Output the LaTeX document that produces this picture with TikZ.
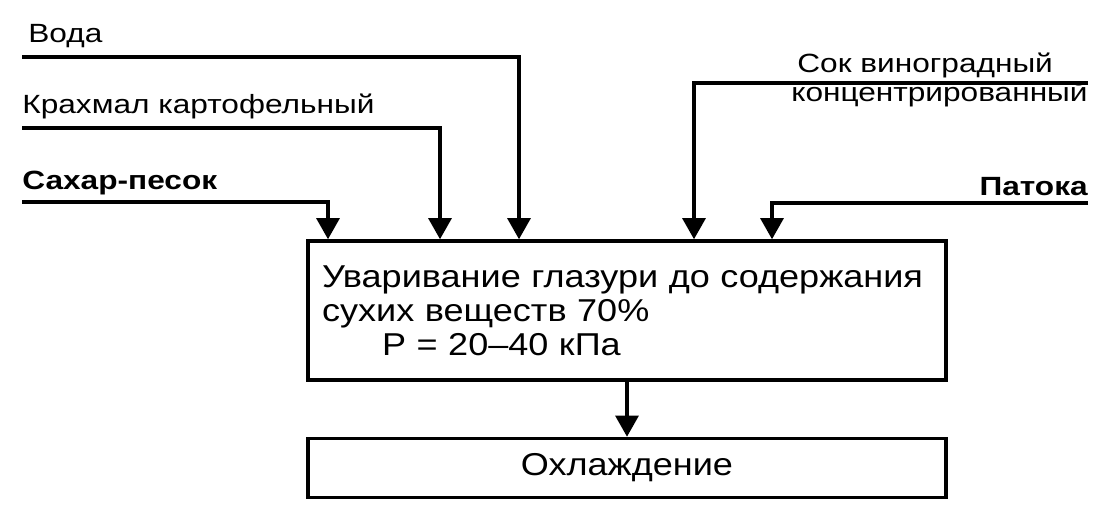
\documentclass[tikz,border=0pt]{standalone}
\usepackage{fontspec}
\setmainfont{Liberation Sans}
\newfontfamily\lblfont[Ligatures=TeX,FakeStretch=1.2]{Liberation Sans}
\newfontfamily\boxfont[Ligatures=TeX,FakeStretch=1.14]{Liberation Sans}
\usetikzlibrary{arrows.meta,positioning,calc}

\begin{document}
\begin{tikzpicture}[
  x=0.02cm,y=-0.02cm,
  lbl/.style={anchor=base west,inner sep=0pt,font=\lblfont\fontsize{15}{16.5}\selectfont},
  lblb/.style={lbl,font=\lblfont\fontsize{15}{16.5}\selectfont\bfseries},
  procbox/.style={draw,line width=2pt,inner sep=0pt,
                  font=\boxfont\fontsize{18}{19.3}\selectfont},
  flow/.style={-{Triangle[length=12pt,width=13pt]},line width=2pt}
]
\useasboundingbox (0,0) rectangle (1109,527);

% process boxes
\node[procbox,minimum width=12.76cm,minimum height=2.78cm,
      text width=12.2cm,align=left] (cook) at (627,310.5)
  {Уваривание глазури до содержания\\сухих веществ 70\%\\\hspace*{1.2cm}Р = 20--40 кПа};
\node[procbox,minimum width=12.76cm,minimum height=1.18cm] (cool) at (627,468)
  {Охлаждение};

% inputs
\node[lbl] (voda) at (28,43) {Вода};
\node[lbl] (kraxmal) at (22,113) {Крахмал картофельный};
\node[lblb] (saxar) at (22,190) {Сахар-песок};
\node[lbl,anchor=base west] (sok) at (797,73) {Сок виноградный};
\node[lbl,anchor=base east] (sok2) at (1088,102) {концентрированный};
\node[lblb,anchor=base east] (patoka) at (1088,195) {Патока};

\coordinate (vodaS) at (22,57);
\coordinate (kraxmalS) at (22,128);
\coordinate (saxarS) at (22,202);
\coordinate (sokS) at (1088,83);
\coordinate (patokaS) at (1088,203);

\draw[flow] (vodaS) -| (cook.north -| 519,0);
\draw[flow] (kraxmalS) -| (cook.north -| 440,0);
\draw[flow] (saxarS) -| (cook.north -| 328,0);
\draw[flow] (sokS) -| (cook.north -| 694,0);
\draw[flow] (patokaS) -| (cook.north -| 772,0);
\draw[flow] (cook) -- (cool);
\end{tikzpicture}
\end{document}
